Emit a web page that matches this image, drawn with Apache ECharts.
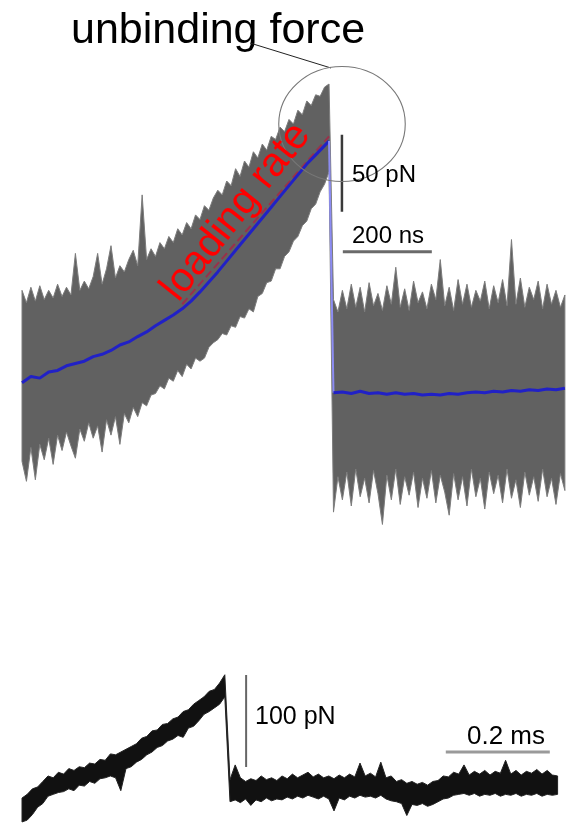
<!DOCTYPE html>
<html>
<head>
<meta charset="utf-8">
<script src="https://cdn.jsdelivr.net/npm/echarts/dist/echarts.min.js"></script>
<style>
  html, body { margin: 0; padding: 0; background: #fff; }
  #main { width: 570px; height: 826px; }
</style>
</head>
<body>
<div id="main"></div>
<script>
// top trace: force (pN) envelope of the raw signal, one value every 10 ns
var topStepNs = 10;
var topUpper = [
  66, 58, 68, 59, 69, 60, 66, 61, 70, 62,
  68, 63, 90, 66, 72, 67, 75, 90, 70, 80,
  95, 74, 82, 78, 86, 92, 82, 128, 86, 93,
  88, 97, 93, 101, 97, 106, 102, 110, 106, 115,
  112, 121, 118, 126, 131, 128, 137, 134, 145, 140,
  150, 146, 156, 152, 161, 157, 166, 164, 172, 169,
  177, 174, 183, 180, 189, 186, 193, 192, 198, 200,
  60, 52, 66, 54, 70, 55, 68, 52, 71, 56,
  64, 53, 69, 57, 81, 55, 67, 53, 72, 58,
  65, 54, 70, 60, 86, 56, 68, 53, 73, 57,
  70, 55, 66, 59, 72, 54, 69, 58, 73, 56,
  99, 57, 74, 55, 68, 60, 72, 54, 70, 57,
  66, 55, 63
];
var topLower = [
  -45, -58, -36, -57, -34, -44, -30, -47, -28, -38,
  -26, -35, -43, -24, -32, -20, -30, -22, -39, -18,
  -28, -16, -34, -14, -20, -10, -16, -7, -9, -2,
  -1, 4, 2, 9, 7, 14, 10, 18, 15, 22,
  20, 22, 29, 32, 34, 38, 37, 43, 42, 49,
  48, 54, 52, 62, 64, 71, 72, 80, 80, 88,
  91, 98, 101, 108, 111, 119, 122, 130, 135, 143,
  -78, -55, -70, -52, -74, -50, -68, -56, -72, -51,
  -66, -86, -54, -70, -50, -73, -55, -67, -52, -75,
  -56, -69, -51, -72, -54, -65, -80, -53, -70, -55,
  -74, -50, -68, -56, -76, -52, -66, -54, -72, -50,
  -69, -57, -75, -52, -67, -55, -71, -50, -68, -56,
  -73, -53, -64
];

// smoothed (blue) trace
var blueRampTimes = [0, 20, 40, 60, 80, 100, 120, 140, 160, 180, 200, 220, 240, 260, 280, 300, 320, 340,
  360, 380, 400, 420, 440, 460, 480, 500, 520, 540, 560, 580, 600, 620, 640, 660, 680, 690];
var blueRampForce = [6, 10, 9, 13, 14, 17, 18.5, 20, 23, 24.5, 27, 30.5, 32.5, 36, 39, 43, 46.5, 50,
  54, 59, 65, 71.5, 78, 85, 92, 99, 106, 113, 120, 127, 134, 141, 148, 154, 160, 163];
var blueFlatTimes = [700, 720, 740, 760, 780, 800, 820, 840, 860, 880, 900, 920, 940, 960, 980,
  1000, 1020, 1040, 1060, 1080, 1100, 1120, 1140, 1160, 1180, 1200, 1220];
var blueFlatForce = [-0.5, 0, -1, 0.5, -1, -0.5, -1.5, -0.5, -1.5, -1, -2, -1.5, -2, -1, -1.5,
  -0.5, 0, -0.5, 0.5, 0, 1, 0.5, 1.5, 1, 2, 1.5, 2.5];

// loading rate fit (dashed)
var fitTimes = [360, 690];
var fitForce = [57, 166];

// bottom trace: force (pN) envelope, one value every 0.01 ms
var bottomStepMs = 0.01;
var bottomUpper = [
  -12, -8, -2, 0, 6, 12, 10, 16, 14, 20,
  18, 22, 21, 26, 25, 30, 29, 36, 35, 38,
  41, 44, 47, 53, 55, 61, 62, 68, 69, 74,
  76, 82, 84, 90, 94, 98, 104, 106, 113, 122,
  8, 24, 10, 6, 9, 7, 12, 8, 10, 7,
  12, 9, 14, 10, 13, 16, 11, 14, 10, 12,
  9, 13, 10, 14, 11, 26, 12, 15, 11, 27,
  10, 12, 6, 8, 4, 6, 3, 5, 2, 6,
  7, 12, 11, 16, 14, 24, 13, 17, 14, 18,
  13, 17, 15, 29, 14, 18, 13, 17, 15, 19,
  14, 18, 13, 12
];
var bottomLower = [
  -38, -36, -30, -22, -18, -10, -8, -6, -5, -2,
  -4, 2, 1, 6, 4, 9, 10, 12, 10, -4,
  20, 22, 27, 30, 35, 38, 43, 45, 50, 52,
  56, 54, 64, 66, 72, 79, 82, 86, 90, 98,
  -16, -14, -17, -13, -20, -14, -16, -12, -15, -13,
  -14, -11, -13, -10, -12, -9, -11, -13, -10, -13,
  -26, -12, -14, -10, -12, -9, -11, -10, -12, -9,
  -13, -15, -16, -18, -31, -19, -20, -18, -21, -19,
  -16, -13, -12, -9, -8, -7, -9, -7, -10, -8,
  -9, -7, -10, -8, -9, -7, -10, -8, -9, -7,
  -10, -8, -9, -8
];

// scale bars
var topBarForce = 50;     // pN
var topBarTime = 200;     // ns
var bottomBarForce = 100; // pN
var bottomBarTime = 0.2;  // ms

var font = '"Liberation Sans", Arial, sans-serif';

function paired(times, values) {
  return times.map(function (t, i) {
    return [t, values[i]];
  });
}

// filled region between the two envelopes, drawn as one polygon
function band(upper, lower, step, axis, fill, edge) {
  var data = upper.map(function (v, i) {
    return [+(i * step).toFixed(4), lower[i], v];
  });
  return {
    type: 'custom',
    xAxisIndex: axis,
    yAxisIndex: axis,
    data: data,
    encode: { x: 0, y: [1, 2] },
    silent: true,
    renderItem: function (params, api) {
      if (params.dataIndex !== 0) return null;
      var pts = [];
      var i;
      for (i = 0; i < data.length; i++) pts.push(api.coord([data[i][0], data[i][2]]));
      for (i = data.length - 1; i >= 0; i--) pts.push(api.coord([data[i][0], data[i][1]]));
      return {
        type: 'polygon',
        shape: { points: pts },
        style: { fill: fill, stroke: edge, lineWidth: 1 }
      };
    }
  };
}
function segment(data, axis, color, width, type) {
  return {
    type: 'line',
    xAxisIndex: axis,
    yAxisIndex: axis,
    data: data,
    showSymbol: false,
    silent: true,
    lineStyle: { color: color, width: width, type: type || 'solid' }
  };
}

var lastRamp = blueRampTimes.length - 1;

var option = {
  animation: false,
  backgroundColor: '#fff',
  grid: [
    { left: 22, top: 68.6, width: 545.1, height: 477.4 },
    { left: 22, top: 667.4, width: 540.8, height: 156.4 }
  ],
  xAxis: [
    { gridIndex: 0, type: 'value', min: 0, max: 1225, show: false },
    { gridIndex: 1, type: 'value', min: 0, max: 1.04, show: false }
  ],
  yAxis: [
    { gridIndex: 0, type: 'value', min: -100, max: 210, show: false },
    { gridIndex: 1, type: 'value', min: -40, max: 130, show: false }
  ],
  series: [
    band(topUpper, topLower, topStepNs, 0, '#616161', '#7c7c7c'),
    segment(paired(fitTimes, fitForce), 0, 'rgba(165,40,70,0.85)', 2, 'dashed'),
    segment(paired(blueRampTimes, blueRampForce), 0, '#2121c6', 3),
    segment([[blueRampTimes[lastRamp], blueRampForce[lastRamp]], [blueFlatTimes[0], blueFlatForce[0]]], 0, '#8c8cf2', 2),
    segment(paired(blueFlatTimes, blueFlatForce), 0, '#2121c6', 3),
    segment([[719, 117], [719, 117 + topBarForce]], 0, '#3a3a3a', 2.5),
    segment([[721, 91], [721 + topBarTime, 91]], 0, '#6a6a6a', 3),

    band(bottomUpper, bottomLower, bottomStepMs, 1, '#111', '#222'),
    segment([[0.431, 21.7], [0.431, 21.7 + bottomBarForce]], 1, '#666', 2),
    segment([[0.815, 38], [0.815 + bottomBarTime, 38]], 1, '#9a9a9a', 3)
  ],
  graphic: [
    {
      type: 'text', x: 71, y: 10, z: 100,
      style: { text: 'unbinding force', font: '43px ' + font, fill: '#000' }
    },
    {
      type: 'line', z: 100,
      shape: { x1: 250, y1: 43, x2: 331, y2: 68 },
      style: { stroke: '#222', lineWidth: 1 }
    },
    {
      type: 'circle', x: 342, y: 124, scaleX: 1.1, z: 100,
      shape: { cx: 0, cy: 0, r: 57.5 },
      style: { fill: null, stroke: '#777', lineWidth: 1 }
    },
    {
      type: 'text', x: 236, y: 212, rotation: 0.9, z: 100,
      style: {
        text: 'loading rate', font: '41px ' + font, fill: '#ff0000',
        textAlign: 'center', textVerticalAlign: 'middle', align: 'center', verticalAlign: 'middle'
      }
    },
    {
      type: 'text', x: 352, y: 163, z: 100,
      style: { text: '50 pN', font: '24px ' + font, fill: '#000' }
    },
    {
      type: 'text', x: 352, y: 224, z: 100,
      style: { text: '200 ns', font: '24px ' + font, fill: '#000' }
    },
    {
      type: 'text', x: 255, y: 705, z: 100,
      style: { text: '100 pN', font: '25px ' + font, fill: '#000' }
    },
    {
      type: 'text', x: 467, y: 724, z: 100,
      style: { text: '0.2 ms', font: '26px ' + font, fill: '#000' }
    }
  ]
};

var chart = echarts.init(document.getElementById('main'));
chart.setOption(option);
</script>
</body>
</html>
